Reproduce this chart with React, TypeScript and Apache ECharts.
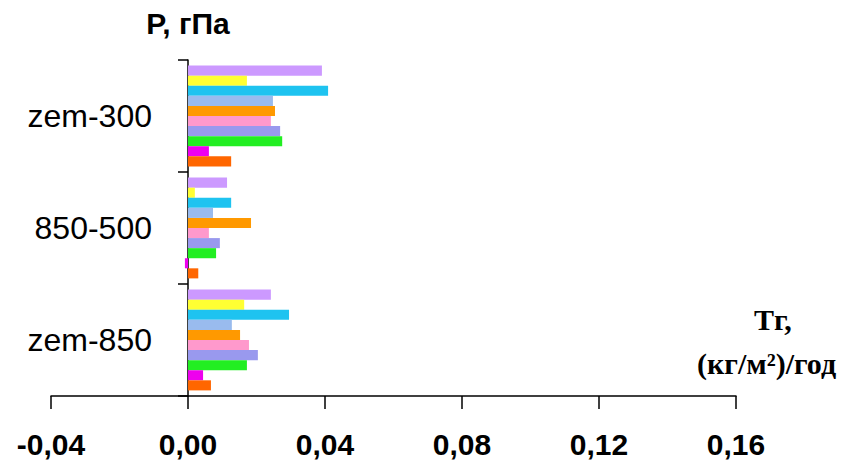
import React, { useEffect, useRef } from "react";
import * as echarts from "echarts";

const categories = ["zem-850", "850-500", "zem-300"];
const xTicks = [-0.04, 0, 0.04, 0.08, 0.12, 0.16];

// series listed top-to-bottom within each group; values ordered [zem-850, 850-500, zem-300]
const seriesNames = ["s1", "s2", "s3", "s4", "s5", "s6", "s7", "s8", "s9", "s10"];
const seriesColors = [
  "#CC99FF",
  "#FFFF33",
  "#1EC3F0",
  "#99BBEE",
  "#FF9900",
  "#FF99CC",
  "#9999EE",
  "#22EE22",
  "#EE00EE",
  "#FF6600",
];
const lavender = [0.0242, 0.0114, 0.0391];
const yellow = [0.0164, 0.002, 0.0172];
const cyan = [0.0295, 0.0126, 0.0409];
const lightBlue = [0.0128, 0.0073, 0.0248];
const orange = [0.0152, 0.0184, 0.0254];
const pink = [0.0178, 0.0061, 0.0242];
const periwinkle = [0.0204, 0.0093, 0.0269];
const green = [0.0172, 0.0082, 0.0275];
const magenta = [0.0044, -0.0009, 0.0061];
const orangeRed = [0.0067, 0.003, 0.0126];
const seriesValues = [lavender, yellow, cyan, lightBlue, orange, pink, periwinkle, green, magenta, orangeRed];

const yTitle = "P, гПа";
const xTitleLine1 = "Тг,";
const xTitleLine2 = "(кг/м²)/год";

export default function App() {
  const ref = useRef<HTMLDivElement>(null);
  useEffect(() => {
    if (!ref.current) return;
    const chart = echarts.init(ref.current, null, { renderer: "svg" });
    const boldSans = "'Liberation Sans', Arial, sans-serif";
    chart.setOption({
      animation: false,
      backgroundColor: "#ffffff",
      grid: { left: 51, right: 109, top: 60, bottom: 80, containLabel: false, outerBoundsMode: "none" },
      xAxis: {
        type: "value",
        min: xTicks[0],
        max: xTicks[xTicks.length - 1],
        interval: 0.04,
        splitLine: { show: false },
        axisLine: { show: true, lineStyle: { color: "#000", width: 1.5 } },
        axisTick: { show: true, length: 13, lineStyle: { color: "#000", width: 1.5 } },
        axisLabel: {
          margin: 33,
          color: "#000",
          fontFamily: boldSans,
          fontWeight: "bold",
          fontSize: 30,
          formatter: (v: number) => v.toFixed(2).replace(".", ","),
        },
      },
      yAxis: {
        type: "category",
        data: categories,
        name: yTitle,
        nameLocation: "end",
        nameGap: 22,
        nameTextStyle: { color: "#000", fontFamily: boldSans, fontWeight: "bold", fontSize: 30 },
        axisLine: { show: true, onZero: true, lineStyle: { color: "#000", width: 1.5 } },
        axisTick: { show: true, length: 10, lineStyle: { color: "#000", width: 1.5 } },
        axisLabel: {
          margin: -101,
          color: "#000",
          fontFamily: "'Liberation Sans', Arial, sans-serif",
          fontSize: 32,
        },
      },
      graphic: [
        {
          type: "text",
          left: 754,
          top: 304,
          style: {
            text: xTitleLine1,
            fill: "#000",
            font: "bold 30px 'Liberation Serif', 'Times New Roman', serif",
          },
        },
        {
          type: "text",
          left: 697,
          top: 348,
          style: {
            text: xTitleLine2,
            fill: "#000",
            font: "bold 30px 'Liberation Serif', 'Times New Roman', serif",
          },
        },
      ],
      series: seriesNames.map((name, i) => ({
        name,
        type: "bar",
        data: seriesValues[i],
        barGap: "0%",
        barCategoryGap: "10%",
        itemStyle: { color: seriesColors[i] },
      })),
    });
    return () => chart.dispose();
  }, []);
  return (
    <div
      ref={ref}
      style={{ position: "absolute", left: 0, top: 0, width: 845, height: 476, background: "#fff" }}
    />
  );
}
